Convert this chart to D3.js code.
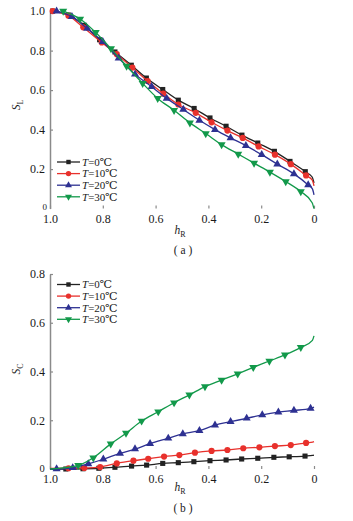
<!DOCTYPE html>
<html>
<head>
<meta charset="utf-8">
<script src="https://cdn.jsdelivr.net/npm/d3@7/dist/d3.min.js"></script>
<style>
  body { margin: 0; background: #fff; }
  svg text { font-family: "Liberation Serif", "DejaVu Serif", serif; fill: #1a1a1a; }
</style>
</head>
<body>
<svg id="chart" width="353" height="521"></svg>
<script>
// ---- data ----
var seriesNames = ["0", "10", "20", "30"];
var seriesColors = ["#222222", "#e8312c", "#2e3192", "#12994a"];

var xTickVals = [1.0, 0.8, 0.6, 0.4, 0.2, 0];
var xTickLabels = ["1.0", "0.8", "0.6", "0.4", "0.2", "0"];
var yTicksA = [0.2, 0.4, 0.6, 0.8, 1.0];
var yTicksB = [0.2, 0.4, 0.6, 0.8];

// panel (a) S_L vs h_R
var aBlackH = [0.99, 0.93, 0.87, 0.812, 0.754, 0.692, 0.635, 0.573, 0.514, 0.454, 0.394, 0.333, 0.273, 0.213, 0.15, 0.091, 0.033, 0.007, 0];
var aBlackS = [1.0, 0.98, 0.928, 0.855, 0.793, 0.726, 0.661, 0.603, 0.549, 0.507, 0.459, 0.417, 0.372, 0.332, 0.29, 0.239, 0.187, 0.16, 0.13];
var aRedH = [0.99, 0.93, 0.874, 0.804, 0.747, 0.688, 0.63, 0.571, 0.514, 0.448, 0.388, 0.328, 0.27, 0.21, 0.148, 0.088, 0.03, 0.007, 0];
var aRedS = [1.0, 0.977, 0.918, 0.841, 0.782, 0.714, 0.646, 0.582, 0.527, 0.485, 0.437, 0.395, 0.358, 0.315, 0.273, 0.225, 0.168, 0.145, 0.115];
var aBlueH = [0.975, 0.917, 0.859, 0.80, 0.74, 0.678, 0.615, 0.558, 0.495, 0.434, 0.375, 0.316, 0.258, 0.198, 0.139, 0.076, 0.022, 0.006, 0];
var aBlueS = [1.0, 0.972, 0.912, 0.845, 0.762, 0.68, 0.617, 0.558, 0.502, 0.447, 0.40, 0.358, 0.319, 0.273, 0.225, 0.176, 0.12, 0.1, 0.07];
var aGreenH = [0.95, 0.886, 0.827, 0.769, 0.71, 0.649, 0.592, 0.53, 0.47, 0.41, 0.35, 0.287, 0.227, 0.167, 0.107, 0.05, 0.007, 0];
var aGreenS = [1.0, 0.96, 0.892, 0.81, 0.722, 0.634, 0.558, 0.498, 0.434, 0.38, 0.324, 0.276, 0.23, 0.185, 0.137, 0.086, 0.03, 0];

// panel (b) S_C vs h_R
var bBlackH = [1.0, 0.94, 0.875, 0.815, 0.754, 0.691, 0.634, 0.573, 0.514, 0.455, 0.394, 0.333, 0.274, 0.213, 0.152, 0.094, 0.034, 0.005, 0];
var bBlackS = [0, 0, 0.001, 0.003, 0.007, 0.012, 0.016, 0.023, 0.026, 0.03, 0.034, 0.037, 0.041, 0.044, 0.048, 0.05, 0.053, 0.056, 0.057];
var bRedH = [1.0, 0.93, 0.87, 0.81, 0.747, 0.684, 0.628, 0.568, 0.51, 0.451, 0.388, 0.328, 0.268, 0.207, 0.148, 0.088, 0.03, 0.005, 0];
var bRedS = [0.002, 0.003, 0.004, 0.008, 0.023, 0.034, 0.042, 0.051, 0.057, 0.067, 0.074, 0.078, 0.085, 0.089, 0.094, 0.098, 0.107, 0.11, 0.112];
var bBlueH = [1.0, 0.975, 0.914, 0.855, 0.798, 0.735, 0.678, 0.621, 0.552, 0.497, 0.434, 0.375, 0.316, 0.255, 0.196, 0.135, 0.076, 0.013, 0.004, 0];
var bBlueS = [0, 0, 0.005, 0.021, 0.04, 0.064, 0.082, 0.104, 0.126, 0.144, 0.157, 0.18, 0.194, 0.208, 0.222, 0.233, 0.24, 0.249, 0.252, 0.254];
var bGreenH = [1.0, 0.893, 0.836, 0.77, 0.712, 0.653, 0.59, 0.53, 0.472, 0.413, 0.35, 0.289, 0.23, 0.169, 0.11, 0.05, 0.006, 0];
var bGreenS = [0, 0.015, 0.046, 0.103, 0.147, 0.197, 0.235, 0.272, 0.304, 0.338, 0.365, 0.39, 0.417, 0.443, 0.468, 0.499, 0.528, 0.546];

var symbols = [d3.symbolSquare, d3.symbolCircle, d3.symbolTriangle, d3.symbolTriangle];
var symSizes = [26, 30, 28, 28];
var symRotate = [0, 0, 0, 180];

function zip(h, s) {
  var out = [];
  for (var i = 0; i < h.length; i++) out.push({h: h[i], s: s[i]});
  return out;
}

var svg = d3.select("#chart");

function drawPanel(cfg) {
  var x = d3.scaleLinear().domain([1, 0]).range([50, 314]);
  var y = d3.scaleLinear().domain(cfg.yDomain).range(cfg.yRange);
  var g = svg.append("g");

  // y axis, ticks pointing inward
  var ya = g.append("g")
    .attr("transform", "translate(50,0)")
    .call(d3.axisLeft(y).tickValues(cfg.yTicks).tickFormat(d3.format(".1f"))
      .tickSizeInner(-3).tickSizeOuter(0).tickPadding(5));
  ya.select(".domain").attr("stroke", "#8a8a8a").attr("stroke-width", 1.5);
  ya.selectAll(".tick line").attr("stroke", "#8a8a8a").attr("stroke-width", 1.2);
  ya.selectAll(".tick text").style("font-size", "12px").style("font-family", "Liberation Serif").attr("fill", "#1a1a1a");

  // x axis: ticks only, no line
  var xa = g.append("g")
    .attr("transform", "translate(0," + y(0) + ")")
    .call(d3.axisBottom(x).tickValues(xTickVals)
      .tickFormat(function(d, i) { return xTickLabels[i]; })
      .tickSizeInner(-3).tickSizeOuter(0).tickPadding(5.5));
  xa.select(".domain").remove();
  xa.selectAll(".tick line").attr("stroke", "#8a8a8a").attr("stroke-width", 1.2);
  xa.selectAll(".tick text").style("font-size", "12px").style("font-family", "Liberation Serif").attr("fill", "#1a1a1a");

  // origin "0"
  g.append("text").attr("x", cfg.zeroX).attr("y", y(0) + cfg.zeroDy)
    .attr("text-anchor", "middle").style("font-size", cfg.zeroSize + "px").text("0");

  var line = d3.line().x(function(d) { return x(d.h); }).y(function(d) { return y(d.s); })
    .curve(d3.curveMonotoneX);

  cfg.series.forEach(function(pts, i) {
    g.append("path").datum(pts)
      .attr("d", line).attr("fill", "none")
      .attr("stroke", seriesColors[i]).attr("stroke-width", 1.3);
    g.selectAll(".m" + i)
      .data(pts.filter(function(d) { return d.h > 0.008 && d.h < 0.995; }))
      .enter().append("path")
      .attr("class", "m" + i)
      .attr("d", d3.symbol().type(symbols[i]).size(symSizes[i]))
      .attr("transform", function(d) {
        return "translate(" + x(d.h) + "," + y(d.s) + ") rotate(" + symRotate[i] + ")";
      })
      .attr("fill", seriesColors[i]);
  });

  // legend
  var lg = g.append("g");
  seriesNames.forEach(function(n, i) {
    var ly = cfg.legendY + i * 11.6;
    lg.append("line").attr("x1", 57).attr("x2", 80).attr("y1", ly).attr("y2", ly)
      .attr("stroke", seriesColors[i]).attr("stroke-width", 1.3);
    lg.append("path").attr("d", d3.symbol().type(symbols[i]).size(symSizes[i] * 0.75))
      .attr("transform", "translate(68.5," + ly + ") rotate(" + symRotate[i] + ")")
      .attr("fill", seriesColors[i]);
    var t = lg.append("text").attr("x", 82).attr("y", ly + 3.8).style("font-size", "11px");
    t.append("tspan").style("font-style", "italic").text("T");
    t.append("tspan").text("=" + n + "\u2103");
  });

  // y label
  var yl = g.append("text")
    .attr("transform", "translate(" + 20 + "," + cfg.yLabelY + ") rotate(-90)")
    .attr("text-anchor", "middle").style("font-size", "11.5px");
  yl.append("tspan").style("font-style", "italic").text("S");
  yl.append("tspan").attr("dy", 3).style("font-size", "8px").text(cfg.ySub);

  // x label
  var xl = g.append("text").attr("x", 180).attr("y", cfg.xLabelY)
    .attr("text-anchor", "middle").style("font-size", "11.5px");
  xl.append("tspan").style("font-style", "italic").text("h");
  xl.append("tspan").attr("dy", 3).style("font-size", "8px").text("R");

  g.append("text").attr("x", 183).attr("y", cfg.capY)
    .attr("text-anchor", "middle").style("font-size", "11.5px").text(cfg.caption);
}

drawPanel({
  yDomain: [0, 1], yRange: [208.6, 11.1], yTicks: yTicksA,
  series: [zip(aBlackH, aBlackS), zip(aRedH, aRedS), zip(aBlueH, aBlueS), zip(aGreenH, aGreenS)],
  legendY: 162, ySub: "L", yLabelY: 105, xLabelY: 234, capY: 254, caption: "( a )",
  zeroX: 44.7, zeroDy: 1.5, zeroSize: 9
});

drawPanel({
  yDomain: [0, 0.8], yRange: [469, 274], yTicks: yTicksB,
  series: [zip(bBlackH, bBlackS), zip(bRedH, bRedS), zip(bBlueH, bBlueS), zip(bGreenH, bGreenS)],
  legendY: 284.5, ySub: "C", yLabelY: 369, xLabelY: 491, capY: 512, caption: "( b )",
  zeroX: 42, zeroDy: 3, zeroSize: 10.5
});
</script>
</body>
</html>
